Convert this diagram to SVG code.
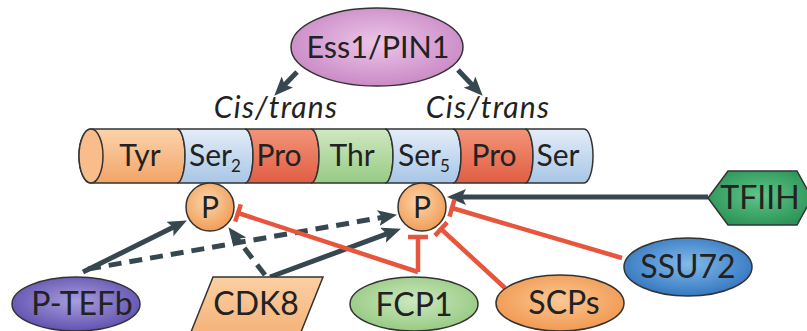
<svg xmlns="http://www.w3.org/2000/svg" width="807" height="331" viewBox="0 0 807 331">
<defs>
<style>
.lbl{font-family:Lato,"Open Sans","DejaVu Sans",sans-serif;fill:#222;text-anchor:middle;font-size:32px}
.seg{font-size:30px}
.it{font-style:italic;font-size:30px;letter-spacing:1.2px}
.sub{font-size:17px}
.outline{stroke:#333;stroke-width:1.5}
.arr{fill:none;stroke:#37474f;stroke-width:5}
.dash{stroke-dasharray:13 8}
.inh{fill:none;stroke:#e8553d;stroke-width:4.5}
</style>
<linearGradient id="gTyr" x1="0" y1="0" x2="0" y2="1"><stop offset="0" stop-color="#fcd3ab"/><stop offset="1" stop-color="#f2a467"/></linearGradient>
<linearGradient id="gSer" x1="0" y1="0" x2="0" y2="1"><stop offset="0" stop-color="#e3edf8"/><stop offset="1" stop-color="#a8c6e6"/></linearGradient>
<linearGradient id="gPro" x1="0" y1="0" x2="0" y2="1"><stop offset="0" stop-color="#f39477"/><stop offset="1" stop-color="#e05e45"/></linearGradient>
<linearGradient id="gThr" x1="0" y1="0" x2="0" y2="1"><stop offset="0" stop-color="#cfe8c2"/><stop offset="1" stop-color="#98cb83"/></linearGradient>
<radialGradient id="gEss" cx="0.5" cy="0.45" r="0.6"><stop offset="0" stop-color="#ecc6e8"/><stop offset="1" stop-color="#c785c3"/></radialGradient>
<radialGradient id="gP" cx="0.45" cy="0.4" r="0.6"><stop offset="0" stop-color="#fcd5ab"/><stop offset="1" stop-color="#f19e58"/></radialGradient>
<radialGradient id="gTF" cx="0.5" cy="0.45" r="0.6"><stop offset="0" stop-color="#5fc68a"/><stop offset="1" stop-color="#2a9255"/></radialGradient>
<radialGradient id="gSSU" cx="0.5" cy="0.45" r="0.6"><stop offset="0" stop-color="#82bbea"/><stop offset="1" stop-color="#2f72bd"/></radialGradient>
<radialGradient id="gSCP" cx="0.5" cy="0.45" r="0.6"><stop offset="0" stop-color="#fbc894"/><stop offset="1" stop-color="#f0954c"/></radialGradient>
<radialGradient id="gFCP" cx="0.5" cy="0.45" r="0.6"><stop offset="0" stop-color="#cde8bf"/><stop offset="1" stop-color="#93c87e"/></radialGradient>
<radialGradient id="gTEF" cx="0.5" cy="0.45" r="0.6"><stop offset="0" stop-color="#a89ddc"/><stop offset="1" stop-color="#5c4cad"/></radialGradient>
<linearGradient id="gCDK" x1="0" y1="0" x2="0" y2="1"><stop offset="0" stop-color="#fbcfa3"/><stop offset="1" stop-color="#f5b47a"/></linearGradient>
<marker id="ah" markerWidth="19" markerHeight="16" refX="6" refY="8" orient="auto" markerUnits="userSpaceOnUse"><path d="M0,0 L19,8 L0,16 L4,8 Z" fill="#37474f"/></marker>
</defs>

<g id="ctd">
<path class="outline" fill="url(#gTyr)" d="M91,129 L177,129 A8,27 0 0 1 177,183 L91,183 A12,27 0 0 1 91,129 Z"/>
<ellipse class="outline" cx="91" cy="156" rx="12" ry="27" fill="#f8bd8a"/>
<path class="outline" fill="url(#gSer)" d="M177,129 L245,129 A8,27 0 0 1 245,183 L177,183 A8,27 0 0 0 177,129 Z"/>
<path class="outline" fill="url(#gPro)" d="M245,129 L311,129 A8,27 0 0 1 311,183 L245,183 A8,27 0 0 0 245,129 Z"/>
<path class="outline" fill="url(#gThr)" d="M311,129 L385,129 A8,27 0 0 1 385,183 L311,183 A8,27 0 0 0 311,129 Z"/>
<path class="outline" fill="url(#gSer)" d="M385,129 L453,129 A8,27 0 0 1 453,183 L385,183 A8,27 0 0 0 385,129 Z"/>
<path class="outline" fill="url(#gPro)" d="M453,129 L525,129 A8,27 0 0 1 525,183 L453,183 A8,27 0 0 0 453,129 Z"/>
<path class="outline" fill="url(#gSer)" d="M525,129 L584,129 A9,27 0 0 1 584,183 L525,183 A8,27 0 0 0 525,129 Z"/>
<text class="lbl seg" x="140" y="166">Tyr</text>
<text class="lbl seg" x="189" y="166" style="text-anchor:start">Ser<tspan class="sub" dx="-1" dy="6">2</tspan></text>
<text class="lbl seg" x="279" y="166">Pro</text>
<text class="lbl seg" x="352" y="166">Thr</text>
<text class="lbl seg" x="398" y="166" style="text-anchor:start">Ser<tspan class="sub" dx="-1" dy="6">5</tspan></text>
<text class="lbl seg" x="494" y="166">Pro</text>
<text class="lbl seg" x="558" y="166">Ser</text>
</g>

<g id="cistrans">
<text class="lbl it" x="276" y="118">Cis/trans</text>
<text class="lbl it" x="488" y="118">Cis/trans</text>
</g>

<g id="connectors">
<path class="arr" marker-end="url(#ah)" d="M297,72 L283.3,86.3"/>
<path class="arr" marker-end="url(#ah)" d="M458,70 L473.7,86.4"/>
<path class="arr" marker-end="url(#ah)" d="M708,197 L460,197"/>
<path class="arr" marker-end="url(#ah)" d="M83,272 L175.2,226.3"/>
<path class="arr dash" marker-end="url(#ah)" d="M88,269 L384.2,217"/>
<path class="arr dash" marker-end="url(#ah)" d="M265,275 L236.3,237.5"/>
<path class="arr" marker-end="url(#ah)" d="M270,277 L388.7,233.2"/>
<path class="inh" d="M418,272 L418,237 M408,237 L428,237"/>
<path class="inh" d="M418,272 L238,213 M240.8,204.4 L235.2,221.6"/>
<path class="inh" d="M505,288 L441,229 M447.1,222.4 L434.9,235.6"/>
<path class="inh" d="M622,258 L452,208 M454.5,199.4 L449.5,216.6"/>
</g>

<g id="ess1">
<ellipse class="outline" cx="377" cy="47" rx="86" ry="39" fill="url(#gEss)"/>
<text class="lbl" x="378" y="58" style="font-size:30.5px">Ess1/PIN1</text>
</g>

<g id="p-ser2">
<circle class="outline" cx="210" cy="207" r="24" fill="url(#gP)"/>
<text class="lbl" x="210" y="218" style="font-size:30px">P</text>
</g>
<g id="p-ser5">
<circle class="outline" cx="422" cy="207" r="24" fill="url(#gP)"/>
<text class="lbl" x="422" y="218" style="font-size:30px">P</text>
</g>

<g id="tfiih">
<polygon class="outline" points="708,198 728,171 797,171 812,198 797,225 728,225" fill="url(#gTF)"/>
<text class="lbl" x="760" y="209">TFIIH</text>
</g>

<g id="ssu72">
<ellipse class="outline" cx="688" cy="267" rx="64" ry="29" fill="url(#gSSU)"/>
<text class="lbl" x="688" y="278">SSU72</text>
</g>

<g id="scps">
<ellipse class="outline" cx="560" cy="303" rx="64" ry="28" fill="url(#gSCP)"/>
<text class="lbl" x="564" y="314">SCPs</text>
</g>

<g id="fcp1">
<ellipse class="outline" cx="414" cy="304" rx="64" ry="27" fill="url(#gFCP)"/>
<text class="lbl" x="414" y="316">FCP1</text>
</g>

<g id="cdk8">
<polygon class="outline" points="213,277 323,277 301,332 191,332" fill="url(#gCDK)"/>
<text class="lbl" x="256" y="315">CDK8</text>
</g>

<g id="ptefb">
<ellipse class="outline" cx="76" cy="304" rx="64" ry="27" fill="url(#gTEF)"/>
<text class="lbl" x="82" y="315">P-TEFb</text>
</g>
</svg>
